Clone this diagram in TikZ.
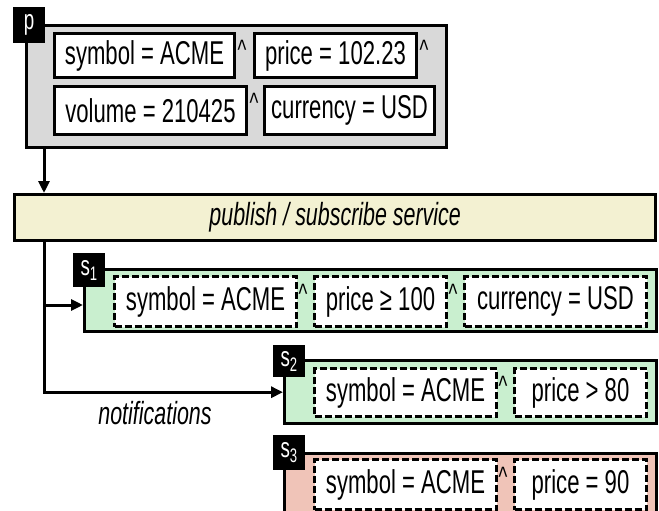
\documentclass[tikz,border=0pt]{standalone}
\usepackage{fontspec}
\setmainfont{Liberation Sans}[FakeStretch=0.67]
\usetikzlibrary{arrows.meta}
\definecolor{pgray}{RGB}{217,217,217}
\definecolor{pubfill}{RGB}{243,241,210}
\definecolor{sgreen}{RGB}{201,239,207}
\definecolor{spink}{RGB}{240,196,184}
\tikzset{
  region/.style={draw=black, line width=3.4pt, inner sep=0pt, anchor=north west},
  cond/.style={draw=black, line width=3pt, fill=white, inner sep=0pt, anchor=north west,
    font=\fontsize{33}{38}\selectfont},
  dcond/.style={cond, dash pattern=on 7pt off 3pt},
  tag/.style={fill=black, text=white, inner sep=0pt, anchor=north west,
    font=\fontsize{28}{28}\selectfont},
  andop/.style={inner sep=0pt, anchor=north, font=\fontsize{28}{28}\selectfont},
  conn/.style={line width=3pt},
  arr/.style={conn, -{Triangle[length=12pt,width=11pt]}},
}
\begin{document}
\begin{tikzpicture}[x=1pt,y=-1pt]
\useasboundingbox (0,0) rectangle (659,511);
\clip (0,0) rectangle (659,511);

% publication
\node[region, fill=pgray, minimum width=420pt, minimum height=122pt] (pbox) at (25,24) {};
\node[tag, minimum width=32pt, minimum height=36pt] (ptag) at (13,7) {p};
\node[cond, minimum width=180pt, minimum height=44pt] (p1) at (53,32) {symbol = ACME};
\node[andop] (pa1) at (242,40) {\textasciicircum};
\node[cond, minimum width=162pt, minimum height=44pt] (p2) at (253,32) {price = 102.23};
\node[andop] (pa2) at (424,40) {\textasciicircum};
\node[cond, minimum width=192pt, minimum height=48pt] (p3) at (53,85) {volume = 210425};
\node[andop] (pa3) at (254,93) {\textasciicircum};
\node[cond, minimum width=170pt, minimum height=48pt] (p4) at (263,85) {currency = USD};

% service
\node[region, fill=pubfill, minimum width=641pt, minimum height=46pt,
  font=\fontsize{32}{36}\selectfont\itshape] (pub) at (13,193) {publish / subscribe service};

% subscription 1
\node[region, fill=sgreen, minimum width=572pt, minimum height=62pt] (s1box) at (83,268) {};
\node[tag, minimum width=32pt, minimum height=34pt] (s1tag) at (73,253) {s\textsubscript{1}};
\node[dcond, minimum width=182pt, minimum height=50pt] (s1a) at (113,275) {symbol = ACME};
\node[andop] (s1o1) at (303,284) {\textasciicircum};
\node[dcond, minimum width=132pt, minimum height=50pt] (s1b) at (313,275) {price ≥ 100};
\node[andop] (s1o2) at (453,284) {\textasciicircum};
\node[dcond, minimum width=182pt, minimum height=50pt] (s1c) at (463,275) {currency = USD};

% subscription 2
\node[region, fill=sgreen, minimum width=372pt, minimum height=63pt] (s2box) at (283,359) {};
\node[tag, minimum width=32pt, minimum height=32pt] (s2tag) at (273,345) {s\textsubscript{2}};
\node[dcond, minimum width=182pt, minimum height=48pt] (s2a) at (313,367) {symbol = ACME};
\node[andop] (s2o1) at (503,376) {\textasciicircum};
\node[dcond, minimum width=132pt, minimum height=48pt] (s2b) at (513,367) {price > 80};

% subscription 3
\node[region, fill=spink, minimum width=372pt, minimum height=70pt] (s3box) at (283,452) {};
\node[tag, minimum width=32pt, minimum height=35pt] (s3tag) at (273,435) {s\textsubscript{3}};
\node[dcond, minimum width=182pt, minimum height=50pt] (s3a) at (313,458) {symbol = ACME};
\node[andop] (s3o1) at (503,467) {\textasciicircum};
\node[dcond, minimum width=132pt, minimum height=50pt] (s3b) at (513,458) {price = 90};

\node[font=\fontsize{32}{36}\selectfont\itshape] (notif) at (155,413) {notifications};

% connectors
\coordinate (pout) at ([xshift=19pt]pbox.south west);
\draw[arr] (pout) -- (pout |- pub.north);
\coordinate (sout) at ([xshift=31pt]pub.south west);
\coordinate (b1) at (44,305);
\draw[arr] (sout) |- (s2box.west);
\draw[arr] (b1) -- (b1 -| s1box.west);
\end{tikzpicture}
\end{document}
